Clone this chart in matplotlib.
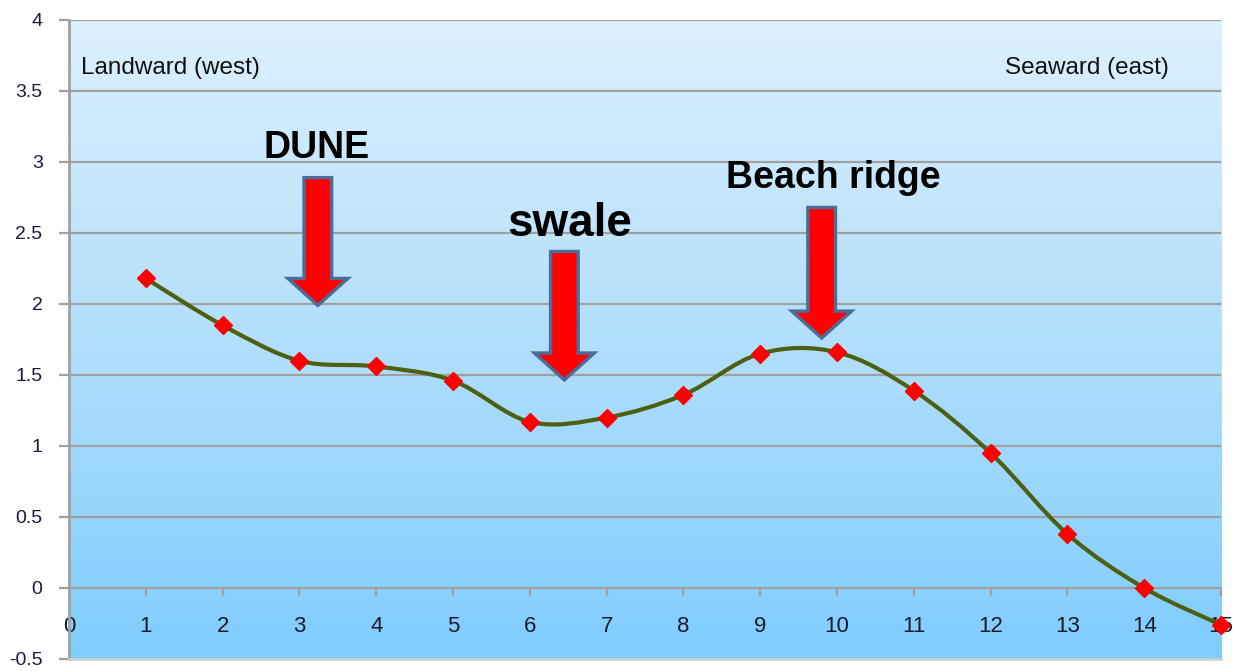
import numpy as np
import matplotlib
matplotlib.use("Agg")
import matplotlib.pyplot as plt
from matplotlib.path import Path
from matplotlib.patches import PathPatch, Polygon
from matplotlib.colors import LinearSegmentedColormap

plt.rcParams['font.family'] = ['Liberation Sans', 'DejaVu Sans']

# profile data (distance, elevation)
distance = [1, 2, 3, 4, 5, 6, 7, 8, 9, 10, 11, 12, 13, 14, 15]
elevation = [2.18, 1.85, 1.60, 1.56, 1.46, 1.17, 1.20, 1.36, 1.65, 1.66,
             1.39, 0.95, 0.38, 0.0, -0.26]

xticks = list(range(0, 16))
yticks = [-0.5, 0, 0.5, 1, 1.5, 2, 2.5, 3, 3.5, 4]
ytick_labels = ['-0.5', '0', '0.5', '1', '1.5', '2', '2.5', '3', '3.5', '4']

# annotation arrows
labels = ['DUNE', 'swale', 'Beach ridge']
label_x = [3.22, 6.52, 9.95]
label_y = [3.1, 2.56, 2.89]
label_size = [27, 33, 27]
arrow_x = [3.24, 6.45, 9.80]
arrow_top = [2.89, 2.37, 2.68]
arrow_tip = [1.99, 1.465, 1.76]

fig = plt.figure(figsize=(12.41, 6.71), dpi=100)
ax = fig.add_axes([0.0556, 0.0179, 0.9283, 0.9523])
ax.set_xlim(0, 15)
ax.set_ylim(-0.5, 4)

# background gradient
cmap = LinearSegmentedColormap.from_list('bg', ['#7ecdff', '#b2dffb', '#ddf0fd'])
grad = np.linspace(0, 1, 256).reshape(-1, 1)
ax.imshow(grad, extent=[0, 15, -0.5, 4], origin='lower', cmap=cmap,
          aspect='auto', zorder=0)

# gridlines
for yv in yticks[1:]:
    ax.axhline(yv, color='#a0a0a0', lw=1.6, zorder=1)

# x axis at y=0 with ticks and labels
for xv in xticks[1:]:
    ax.plot([xv, xv], [0, -0.05], color='#a0a0a0', lw=1.6, zorder=1,
            clip_on=False)
for xv in xticks:
    ax.text(xv, -0.27, str(xv), ha='center', va='center', fontsize=16,
            color='#1a1a2a', zorder=2)

# smooth line (Bezier through points like spreadsheet smoothing)
pts = np.column_stack([distance, elevation])
verts = [tuple(pts[0])]
codes = [Path.MOVETO]
n = len(pts)
for i in range(n - 1):
    p0 = pts[i - 1] if i > 0 else pts[i]
    p1 = pts[i]
    p2 = pts[i + 1]
    p3 = pts[i + 2] if i + 2 < n else pts[i + 1]
    c1 = p1 + (p2 - p0) / 6
    c2 = p2 - (p3 - p1) / 6
    verts += [tuple(c1), tuple(c2), tuple(p2)]
    codes += [Path.CURVE4] * 3
ax.add_patch(PathPatch(Path(verts, codes), facecolor='none',
                       edgecolor='#4e5e12', lw=3, zorder=3, clip_on=False))
ax.plot(distance, elevation, linestyle='none', marker='D', markersize=9.5,
        color='#ff0000', zorder=4, clip_on=False)

# arrows
shaft_w = 0.18
head_w = 0.39
for lab, lx, ly, fs, axp, top, tip in zip(labels, label_x, label_y, label_size,
                                          arrow_x, arrow_top, arrow_tip):
    hb = tip + 0.19
    poly = [(axp - shaft_w, top), (axp + shaft_w, top), (axp + shaft_w, hb),
            (axp + head_w, hb), (axp, tip), (axp - head_w, hb),
            (axp - shaft_w, hb)]
    ax.add_patch(Polygon(poly, closed=True, facecolor='#ff0000',
                         edgecolor='#4a6d9c', lw=2.4, zorder=5))
    ax.text(lx, ly, lab, ha='center', va='center', fontsize=fs,
            fontweight='bold', color='black', zorder=6)

ax.text(0.16, 3.66, 'Landward (west)', ha='left', va='center', fontsize=17.5,
        color='#111111')
ax.text(14.32, 3.66, 'Seaward (east)', ha='right', va='center', fontsize=17.5,
        color='#111111')

# axes styling
ax.set_xticks([])
ax.set_yticks(yticks)
ax.set_yticklabels(ytick_labels, fontsize=14, color='#1a1a3a')
ax.tick_params(axis='y', length=7, width=1.6, color='#a0a0a0', pad=12)
for s in ['top', 'right']:
    ax.spines[s].set_visible(False)
ax.spines['left'].set_color('#a0a0a0')
ax.spines['left'].set_linewidth(2)
ax.spines['bottom'].set_color('#d0d0d0')
ax.spines['bottom'].set_linewidth(2)

fig.savefig('out.png', dpi=100)
